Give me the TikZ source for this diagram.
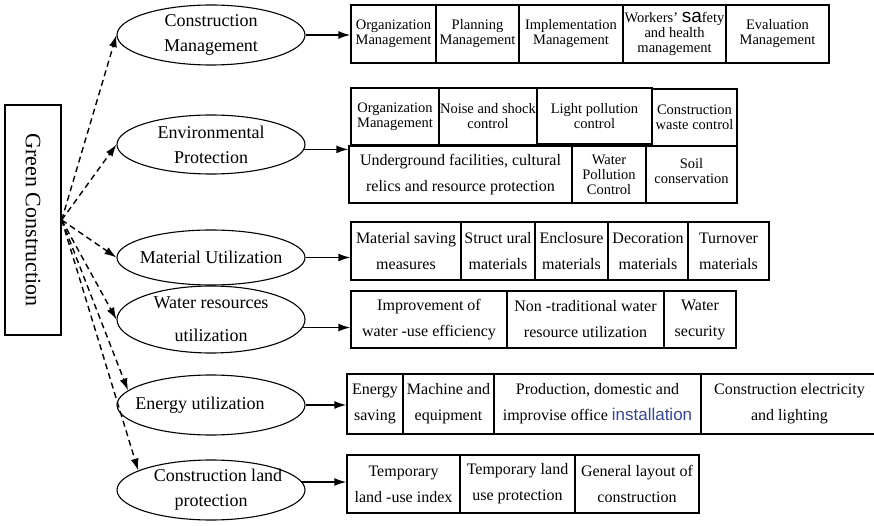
\documentclass[tikz,border=0pt]{standalone}
\usepackage{fontspec}
\setmainfont{Liberation Serif}
\newfontfamily\sansfont{Liberation Sans}
\usepackage{tikz}
\usetikzlibrary{arrows.meta, shapes.geometric}
\definecolor{linkblue}{RGB}{51,68,170}

\begin{document}
\begin{tikzpicture}[x=1pt, y=-1pt,
        goal/.style={ellipse, draw, line width=1.1pt, inner xsep=-30pt, inner ysep=-10pt, minimum width=188, align=center, font=\fontsize{18}{25}\selectfont},
        item/.style={rectangle, draw, line width=1.4pt, inner sep=0pt, align=center, font=\fontsize{14.5}{15}\selectfont},
        wideitem/.style={item, font=\fontsize{16}{26}\selectfont},
        dashlink/.style={-{Latex[length=12pt,width=8pt]}, line width=1.4pt, dash pattern=on 6pt off 4pt},
        link/.style={-{Latex[length=12pt,width=8pt]}, line width=1.4pt}]
        \useasboundingbox (0,0) rectangle (874,526);

        \node[draw, line width=1.4pt, rotate=-90, minimum width=230, minimum height=56, inner sep=0pt, font=\fontsize{22}{26}\selectfont] at (33, 220) (root) {Green Construction};

        \node[goal, minimum height=60] at (211, 35)    (cm) {Construction\\Management};
        \node[goal, minimum height=59] at (211, 144.5) (ep) {Environmental\\Protection};
        \node[goal, minimum height=55] at (211, 257.5) (mu) {Material Utilization};
        \node[goal, minimum height=67] at (211, 319.5) (wr) {Water resources\\[8pt]utilization};
        \node[goal, minimum height=60] at (211, 405)   (eu) {Energy utilization\hspace*{22pt}};
        \node[goal, minimum height=60] at (211, 490)   (lp) {\hspace*{14pt}Construction land\\protection};

        % construction management
        \node[item, minimum width=85,  minimum height=58] at (393.5, 34) (cm1) {Organization\\Management};
        \node[item, minimum width=83,  minimum height=58] at (477.5, 34) (cm2) {Planning\\Management};
        \node[item, minimum width=104, minimum height=58] at (571, 34)   (cm3) {Implementation\\Management};
        \node[item, minimum width=103, minimum height=58] at (674.5, 34) (cm4) {Workers' {\sansfont\fontsize{19}{15}\selectfont sa}fety\\and health\\management};
        \node[item, minimum width=103, minimum height=58] at (777.5, 34) (cm5) {Evaluation\\Management};

        % environmental protection
        \node[item, minimum width=88,  minimum height=57] at (395, 116.5)   (ep1) {Organization\\Management};
        \node[item, minimum width=98,  minimum height=57] at (488, 116.5)   (ep2) {Noise and shock\\control};
        \node[item, minimum width=115, minimum height=56] at (594.5, 116)   (ep3) {Light pollution\\control};
        \node[item, minimum width=85,  minimum height=57] at (694.5, 117.5) (ep4) {Construction\\waste control};
        \node[wideitem, minimum width=223, minimum height=57] at (460.5, 174.5) (ep5) {Underground facilities, cultural\\relics and resource protection};
        \node[item, minimum width=74,  minimum height=57] at (609, 174.5)   (ep6) {Water\\Pollution\\Control};
        \node[item, minimum width=91,  minimum height=57] at (691.5, 174.5) (ep7) {Soil\\conservation\\[-7pt]};

        % material utilization
        \node[wideitem, minimum width=110, minimum height=58] at (406, 251)   (mu1) {Material saving\\measures};
        \node[wideitem, minimum width=74,  minimum height=58] at (498, 251)   (mu2) {Struct ural\\materials};
        \node[wideitem, minimum width=73,  minimum height=58] at (571.5, 251) (mu3) {Enclosure\\materials};
        \node[wideitem, minimum width=80,  minimum height=58] at (648, 251)   (mu4) {Decoration\\materials};
        \node[wideitem, minimum width=81,  minimum height=58] at (728.5, 251) (mu5) {Turnover\\materials};

        % water resources
        \node[wideitem, minimum width=156, minimum height=57] at (429, 319.5)   (wr1) {Improvement of\\water -use efficiency};
        \node[wideitem, minimum width=157, minimum height=57] at (585.5, 319.5) (wr2) {Non -traditional water\\resource utilization};
        \node[wideitem, minimum width=72,  minimum height=57] at (700, 319.5)   (wr3) {Water\\security};

        % energy utilization
        \node[wideitem, minimum width=56,  minimum height=60] at (375, 404)   (eu1) {Energy\\saving};
        \node[wideitem, minimum width=91,  minimum height=60] at (448.5, 404) (eu2) {Machine and\\equipment};
        \node[wideitem, minimum width=207, minimum height=60] at (597.5, 404) (eu3) {Production, domestic and\\improvise office {\color{linkblue}\sansfont\fontsize{17}{26}\selectfont installation}};
        \node[wideitem, minimum width=177, minimum height=60] at (789.5, 404) (eu4) {Construction electricity\\and lighting};

        % land protection
        \node[wideitem, minimum width=113, minimum height=58] at (403.5, 484) (lp1) {Temporary\\land -use index};
        \node[wideitem, minimum width=115, minimum height=58] at (517.5, 484) (lp2) {Temporary land\\use protection};
        \node[wideitem, minimum width=124, minimum height=58] at (637, 484)   (lp3) {General layout of\\construction};

        \draw [dashlink] (root.north) -- (cm.west);
        \draw [dashlink] (root.north) -- (ep.west);
        \draw [dashlink] (root.north) -- (mu.west);
        \draw [dashlink] (root.north) -- (wr.west);
        \draw [dashlink] (root.north) -- (eu.170);
        \draw [dashlink] (root.north) -- (lp.165);

        \draw [link] (cm.east) -- (cm.east -| cm1.west);
        \draw [link] (ep.-3) -- (ep.-3 -| ep5.west);
        \draw [link] (mu.east) -- (mu.east -| mu1.west);
        \draw [link] (wr.-5) -- (wr.-5 -| wr1.west);
        \draw [link] (eu.east) -- (eu.east -| eu1.west);
        \draw [link] (lp.5) -- (lp.5 -| lp1.west);
    \end{tikzpicture}
\end{document}
